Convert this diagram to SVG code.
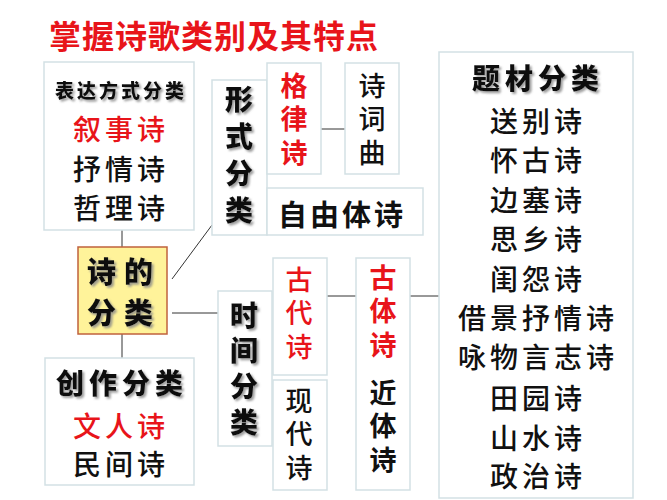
<svg xmlns="http://www.w3.org/2000/svg" width="667" height="500" viewBox="0 0 667 500">
<defs>
<filter id="sh" x="-30%" y="-20%" width="160%" height="150%">
<feDropShadow dx="2" dy="2" stdDeviation="1" flood-color="#888" flood-opacity="0.8"/>
</filter>
</defs>
<style>
.box{fill:#fff;stroke:#d3e1e5;stroke-width:1.5}
.t{font-family:"Noto Sans CJK SC","Noto Sans CJK JP",sans-serif;dominant-baseline:central;text-anchor:middle;fill:#111;font-weight:500}
.v{writing-mode:vertical-rl;text-orientation:upright;font-size:27px;letter-spacing:6.5px}
.r{fill:#e8141a}
.b{font-weight:bold}
.k{font-weight:900;filter:url(#sh)}
.ln{stroke:#333;stroke-width:1;fill:none}
.ul{stroke:#444;stroke-width:1.5;filter:url(#sh)}
</style>
<rect width="667" height="500" fill="#fff"/>
<text class="t r b" x="214" y="34" font-size="32" letter-spacing="1">掌握诗歌类别及其特点</text>
<g id="connectors">
<line class="ln" x1="122" y1="230" x2="122" y2="247"/>
<line class="ln" x1="122" y1="334" x2="122" y2="358"/>
<line class="ln" x1="172" y1="279" x2="212" y2="225"/>
<line class="ln" x1="172" y1="313" x2="218" y2="313"/>
<line class="ln" x1="321" y1="129" x2="345" y2="129"/>
<line class="ln" x1="327" y1="296" x2="356" y2="296"/>
<line class="ln" x1="410" y1="296" x2="439" y2="296"/>
</g>
<g id="expr">
<rect class="box" x="44" y="62" width="150" height="168"/>
<text class="t k" x="121" y="89" font-size="19" letter-spacing="3">表达方式分类</text>
<line class="ul" x1="55" y1="100" x2="186" y2="100"/>
<text class="t r" x="121" y="128" font-size="28" letter-spacing="4">叙事诗</text>
<text class="t" x="121" y="168" font-size="28" letter-spacing="4">抒情诗</text>
<text class="t" x="121" y="207" font-size="28" letter-spacing="4">哲理诗</text>
</g>
<g id="center">
<rect x="78" y="247" width="89" height="87" fill="#fff39a" stroke="#c0623c" stroke-width="1.5"/>
<text class="t k" x="124" y="270" font-size="29" letter-spacing="8">诗的</text>
<text class="t k" x="124" y="311" font-size="29" letter-spacing="8">分类</text>
</g>
<g id="create">
<rect class="box" x="45" y="358" width="149" height="127"/>
<text class="t k" x="122" y="382" font-size="28" letter-spacing="5">创作分类</text>
<line class="ul" x1="54" y1="396" x2="186" y2="396"/>
<text class="t r" x="121" y="425" font-size="28" letter-spacing="4">文人诗</text>
<text class="t" x="121" y="463" font-size="28" letter-spacing="4">民间诗</text>
</g>
<g id="form">
<rect class="box" x="212" y="80" width="55" height="155"/>
<text class="t v k" x="239" y="159.5" style="font-size:28px;letter-spacing:9px">形式分类</text>
</g>
<g id="gelv">
<rect class="box" x="267" y="63" width="54" height="111"/>
<text class="t v r b" x="294" y="122">格律诗</text>
</g>
<g id="shici">
<rect class="box" x="345" y="63" width="54" height="111"/>
<text class="t v" x="372" y="122">诗词曲</text>
</g>
<g id="free">
<rect class="box" x="267" y="188" width="156" height="47"/>
<text class="t b" x="342" y="213" font-size="29" letter-spacing="3">自由体诗</text>
</g>
<g id="time">
<rect class="box" x="218" y="291" width="54" height="155"/>
<text class="t v k" x="244" y="372.5" style="font-size:28px;letter-spacing:7.7px">时间分类</text>
</g>
<g id="gudai">
<rect class="box" x="273" y="258" width="54" height="117"/>
<text class="t v r" x="299" y="316">古代诗</text>
</g>
<g id="xiandai">
<rect class="box" x="273" y="380" width="54" height="110"/>
<text class="t v" x="299" y="437">现代诗</text>
</g>
<g id="gutijinti">
<rect class="box" x="356" y="258" width="54" height="232"/>
<text class="t v r b" x="383" y="314">古体诗</text>
<text class="t v b" x="383" y="429">近体诗</text>
</g>
<g id="theme">
<rect class="box" x="439" y="52" width="194" height="446"/>
<text class="t k" x="538" y="77" font-size="28" letter-spacing="5">题材分类</text>
<line class="ul" x1="469" y1="90" x2="604" y2="90"/>
<text class="t" x="538" y="120" font-size="28" letter-spacing="4">送别诗</text>
<text class="t" x="538" y="159" font-size="28" letter-spacing="4">怀古诗</text>
<text class="t" x="538" y="199" font-size="28" letter-spacing="4">边塞诗</text>
<text class="t" x="538" y="238" font-size="28" letter-spacing="4">思乡诗</text>
<text class="t" x="538" y="278" font-size="28" letter-spacing="4">闺怨诗</text>
<text class="t" x="538" y="317" font-size="28" letter-spacing="4">借景抒情诗</text>
<text class="t" x="538" y="356" font-size="28" letter-spacing="4">咏物言志诗</text>
<text class="t" x="538" y="397" font-size="28" letter-spacing="4">田园诗</text>
<text class="t" x="538" y="437" font-size="28" letter-spacing="4">山水诗</text>
<text class="t" x="538" y="475" font-size="28" letter-spacing="4">政治诗</text>
</g>
</svg>
